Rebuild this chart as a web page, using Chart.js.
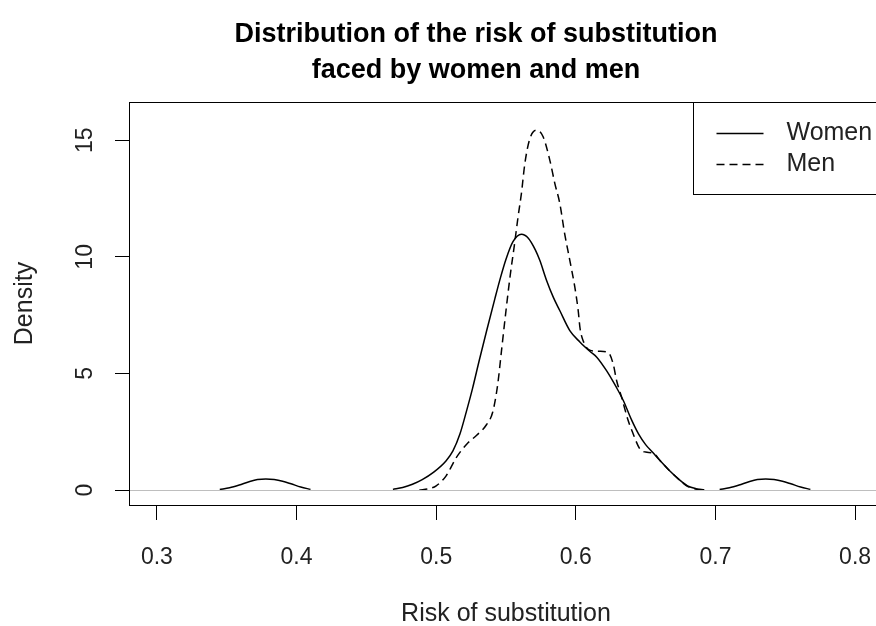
<!DOCTYPE html>
<html>
<head>
<meta charset="utf-8">
<title>Distribution of the risk of substitution</title>
<script src="https://cdn.jsdelivr.net/npm/chart.js@4.4.1/dist/chart.umd.min.js"></script>
<style>
  html, body { margin: 0; padding: 0; background: #fff; overflow: hidden; }
  #wrap { width: 900px; height: 626px; }
</style>
</head>
<body>
<div id="wrap"><canvas id="chart" width="900" height="626"></canvas></div>
<script>
// density estimates (null = gap where the curve sits on zero)
const womenRisk = [
  0.345, 0.352, 0.359, 0.366, 0.372, 0.378, 0.384, 0.390, 0.396, 0.403, 0.410,
  0.440,
  0.469, 0.476, 0.483, 0.490, 0.498, 0.507, 0.512, 0.517, 0.522, 0.526, 0.531, 0.536,
  0.542, 0.546, 0.550, 0.555, 0.561, 0.566, 0.571, 0.5742, 0.579, 0.584, 0.5885, 0.5957,
  0.6029, 0.610, 0.615, 0.622, 0.629, 0.634, 0.640, 0.645, 0.650, 0.655, 0.661, 0.667,
  0.674, 0.680, 0.686, 0.692,
  0.698,
  0.703, 0.710, 0.717, 0.724, 0.730, 0.736, 0.742, 0.748, 0.754, 0.761, 0.768
];
const womenDensity = [
  0.02, 0.10, 0.22, 0.36, 0.45, 0.47, 0.45, 0.38, 0.27, 0.13, 0.03,
  null,
  0.03, 0.11, 0.25, 0.45, 0.76, 1.25, 1.68, 2.40, 3.45, 4.35, 5.60, 6.80,
  8.20, 9.10, 9.90, 10.65, 10.97, 10.80, 10.30, 9.85, 9.00, 8.25, 7.70, 6.84,
  6.35, 5.95, 5.70, 5.12, 4.41, 3.84, 3.00, 2.40, 1.95, 1.62, 1.22, 0.84,
  0.45, 0.18, 0.06, 0.01,
  null,
  0.02, 0.10, 0.22, 0.36, 0.45, 0.47, 0.45, 0.38, 0.27, 0.13, 0.03
];
const menRisk = [
  0.488, 0.495, 0.500, 0.507, 0.5145, 0.522, 0.529, 0.536, 0.5405, 0.544, 0.547, 0.550,
  0.553, 0.556, 0.5586, 0.561, 0.5635, 0.567, 0.5718, 0.5766, 0.5814, 0.585, 0.5885, 0.592,
  0.5957, 0.5993, 0.6017, 0.603, 0.6052, 0.610, 0.6172, 0.6232, 0.6268, 0.6292, 0.6328, 0.6375,
  0.6405, 0.6459, 0.650, 0.6554, 0.661, 0.667, 0.674, 0.680, 0.686, 0.692
];
const menDensity = [
  0.00, 0.06, 0.18, 0.60, 1.40, 1.98, 2.35, 2.80, 3.35, 4.50, 6.10, 7.70,
  9.20, 10.50, 11.70, 12.70, 14.00, 15.05, 15.43, 15.15, 14.14, 13.14, 12.30, 11.00,
  9.85, 8.70, 7.70, 6.95, 6.41, 6.00, 5.95, 5.90, 5.40, 4.70, 3.98, 2.98,
  2.50, 1.76, 1.63, 1.58, 1.22, 0.84, 0.45, 0.16, 0.04, 0.00
];
const riskTicks = [0.3, 0.4, 0.5, 0.6, 0.7, 0.8];
const densityTicks = [0, 5, 10, 15];
const titleLines = ['Distribution of the risk of substitution', 'faced by women and men'];

const FONT = '"Liberation Sans", Arial, Helvetica, sans-serif';
const INK = '#000';
const TEXT = '#222';

const toPoints = (xs, ys) => xs.map((x, i) => ({ x: x, y: ys[i] }));

// zero line (drawn over the curves like R's plot.density) and the plot box
const rFrame = {
  id: 'rFrame',
  afterDatasetsDraw(chart) {
    const { ctx, chartArea: a, scales } = chart;
    const y0 = Math.round(scales.y.getPixelForValue(0)) + 0.5;
    ctx.save();
    ctx.lineWidth = 1;
    ctx.strokeStyle = '#bebebe';
    ctx.beginPath();
    ctx.moveTo(a.left, y0);
    ctx.lineTo(a.right, y0);
    ctx.stroke();
    ctx.strokeStyle = INK;
    ctx.strokeRect(Math.round(a.left) + 0.5, Math.round(a.top) + 0.5,
      Math.round(a.right - a.left), Math.round(a.bottom - a.top));
    ctx.restore();
  }
};

// boxed legend in the top-right corner, like legend("topright", lty = 1:2)
const rLegend = {
  id: 'rLegend',
  afterDraw(chart) {
    const { ctx, chartArea: a } = chart;
    const left = Math.round(a.right - 190) + 0.5;
    const top = Math.round(a.top) + 0.5;
    ctx.save();
    ctx.fillStyle = '#fff';
    ctx.fillRect(left, top, a.right - left + 20, 92);
    ctx.strokeStyle = INK;
    ctx.lineWidth = 1;
    ctx.strokeRect(left, top, a.right - left + 20, 92);
    ctx.font = '25px ' + FONT;
    ctx.textBaseline = 'middle';
    chart.data.datasets.forEach((ds, i) => {
      const y = Math.round(a.top + 31 + i * 31) + 0.5;
      ctx.setLineDash(ds.borderDash || []);
      ctx.lineWidth = 1.5;
      ctx.beginPath();
      ctx.moveTo(left + 23, y);
      ctx.lineTo(left + 70, y);
      ctx.stroke();
      ctx.setLineDash([]);
      ctx.fillStyle = TEXT;
      ctx.fillText(ds.label, left + 93, y);
    });
    ctx.restore();
  }
};

// two-line bold title
const rTitle = {
  id: 'rTitle',
  afterDraw(chart) {
    const ctx = chart.ctx;
    ctx.save();
    ctx.font = 'bold 27px ' + FONT;
    ctx.fillStyle = INK;
    ctx.textAlign = 'center';
    ctx.textBaseline = 'alphabetic';
    titleLines.forEach((t, i) => ctx.fillText(t, 476, 42 + i * 36));
    ctx.restore();
  }
};

new Chart(document.getElementById('chart').getContext('2d'), {
  type: 'line',
  data: {
    datasets: [
      {
        label: 'Women',
        data: toPoints(womenRisk, womenDensity),
        borderColor: INK,
        borderWidth: 1.5,
        borderDash: [],
        pointRadius: 0,
        cubicInterpolationMode: 'monotone',
        spanGaps: false,
        fill: false
      },
      {
        label: 'Men',
        data: toPoints(menRisk, menDensity),
        borderColor: INK,
        borderWidth: 1.5,
        borderDash: [8, 5],
        pointRadius: 0,
        cubicInterpolationMode: 'monotone',
        spanGaps: false,
        fill: false
      }
    ]
  },
  options: {
    responsive: false,
    animation: false,
    events: [],
    layout: { padding: { top: 102, left: 0, right: 17, bottom: 0 } },
    plugins: {
      legend: { display: false },
      title: { display: false },
      tooltip: { enabled: false }
    },
    scales: {
      x: {
        type: 'linear',
        position: 'bottom',
        min: 0.28,
        max: 0.82,
        afterBuildTicks: scale => { scale.ticks = riskTicks.map(v => ({ value: v })); },
        afterFit: scale => { scale.height = 121; },
        border: { display: false },
        grid: { drawOnChartArea: false, drawTicks: true, tickLength: 15, tickColor: INK, tickWidth: 1 },
        ticks: {
          padding: 24,
          color: TEXT,
          font: { family: FONT, size: 23 },
          maxRotation: 0,
          callback: v => Number(v).toFixed(1)
        },
        title: {
          display: true,
          text: 'Risk of substitution',
          color: TEXT,
          font: { family: FONT, size: 25 },
          padding: { top: 0, bottom: -3 }
        }
      },
      y: {
        type: 'linear',
        position: 'left',
        min: -0.64,
        max: 16.64,
        afterBuildTicks: scale => { scale.ticks = densityTicks.map(v => ({ value: v })); },
        afterFit: scale => { scale.width = 129; },
        border: { display: false },
        grid: { drawOnChartArea: false, drawTicks: true, tickLength: 14, tickColor: INK, tickWidth: 1 },
        ticks: {
          padding: 17,
          color: TEXT,
          font: { family: FONT, size: 23 },
          minRotation: 90,
          maxRotation: 90,
          crossAlign: 'center',
          callback: v => String(v)
        },
        title: {
          display: true,
          text: 'Density',
          color: TEXT,
          font: { family: FONT, size: 25 },
          padding: { top: 10, bottom: 0 }
        }
      }
    }
  },
  plugins: [rFrame, rLegend, rTitle]
});
</script>
</body>
</html>
